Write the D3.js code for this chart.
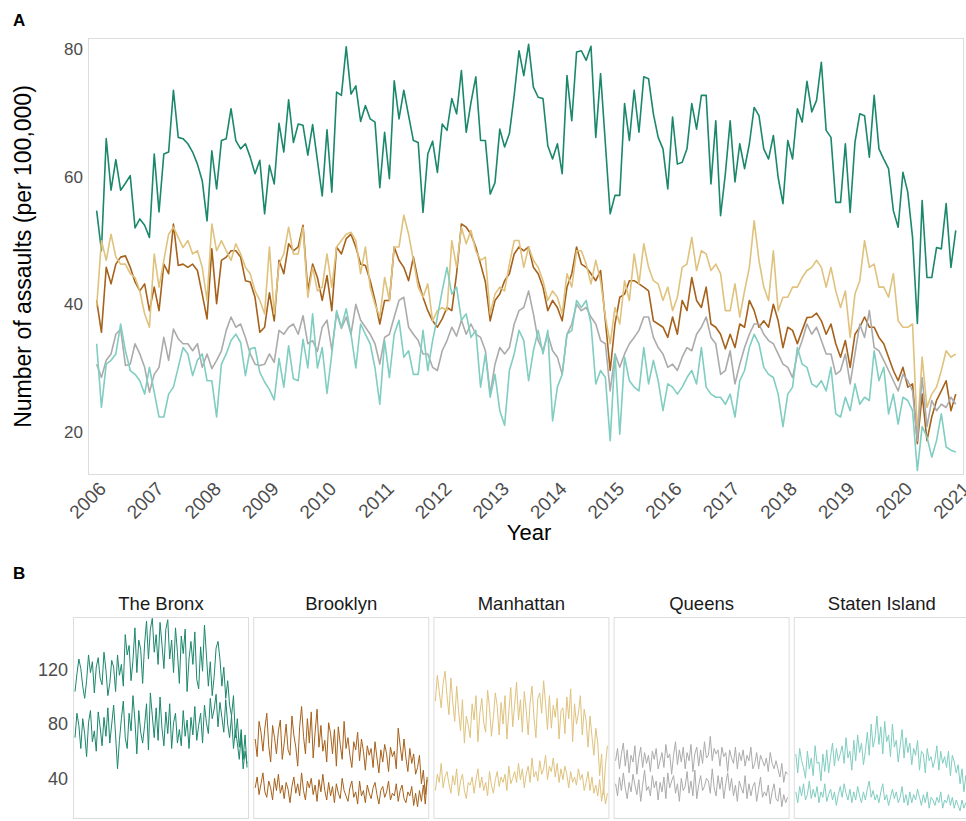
<!DOCTYPE html>
<html>
  <head>
    <title>Assaults per 100,000 by borough</title>
    <style>
      body { margin: 0; background: #fff; }
      text { font-family: 'Liberation Sans', Arial, sans-serif; }
    </style>
  </head>
  <body>
    <svg id="svg" width="966" height="821"></svg>
    <script src="https://cdn.jsdelivr.net/npm/d3@7"></script>
    <script>
      // ---- data ----
      const boroughs = ['The Bronx', 'Brooklyn', 'Manhattan', 'Queens', 'Staten Island'];
      const yearTicks = [2006, 2007, 2008, 2009, 2010, 2011, 2012, 2013, 2014, 2015, 2016, 2017, 2018, 2019, 2020, 2021];
      const rateTicks = [20, 40, 60, 80];
      const facetTicks = [40, 80, 120];

      // panel A: monthly rate, Jan 2006 - Dec 2020
      const bronxMonthly = [
        54.7, 48.4, 66.0, 57.9, 62.7, 57.9, 59.0, 60.2, 52.0, 53.4, 52.4, 50.5,
        63.6, 54.5, 63.6, 63.9, 73.6, 66.2, 66.0, 65.2, 63.9, 62.0, 59.4, 53.1,
        64.1, 58.1, 65.7, 66.0, 70.7, 65.7, 64.4, 65.2, 63.1, 60.5, 62.6, 54.2,
        61.8, 58.9, 68.4, 63.9, 72.1, 65.4, 68.3, 68.1, 63.4, 68.2, 62.6, 57.0,
        67.4, 57.6, 73.3, 72.8, 80.4, 73.0, 74.3, 68.7, 71.2, 69.1, 68.6, 58.3,
        67.0, 59.7, 75.1, 69.1, 73.6, 69.6, 65.7, 65.4, 54.4, 63.6, 65.6, 60.7,
        68.3, 67.3, 72.3, 69.9, 76.7, 67.0, 71.7, 75.7, 65.7, 65.7, 57.3, 59.1,
        67.5, 64.7, 66.8, 72.8, 79.8, 75.9, 80.8, 74.1, 72.5, 72.3, 64.9, 62.8,
        65.2, 60.5, 75.9, 68.8, 79.6, 79.8, 78.3, 80.5, 66.2, 76.2, 65.2, 54.2,
        57.1, 57.1, 71.5, 65.7, 73.6, 67.0, 75.7, 75.4, 69.9, 66.2, 64.4, 58.1,
        69.4, 62.0, 62.3, 64.4, 71.5, 67.5, 72.8, 72.8, 58.9, 68.8, 53.9, 60.5,
        68.8, 59.2, 65.2, 61.3, 65.2, 70.9, 69.6, 64.4, 62.8, 66.5, 59.9, 55.8,
        65.7, 62.8, 70.7, 68.6, 75.0, 70.2, 72.0, 78.0, 67.3, 66.2, 56.0, 56.0,
        65.2, 54.4, 65.4, 69.9, 69.6, 63.1, 72.8, 64.4, 62.8, 61.3, 54.7, 52.1,
        60.7, 57.6, 50.5, 37.0, 56.3, 44.2, 44.2, 48.9, 48.7, 55.8, 45.8, 51.6
      ];
      const brooklynMonthly = [
        40.6, 35.6, 45.8, 43.2, 46.3, 47.4, 47.6, 45.8, 43.5, 42.1, 43.2, 39.0,
        42.7, 39.0, 46.3, 44.8, 52.6, 46.1, 46.3, 45.8, 46.3, 45.3, 41.6, 37.7,
        48.7, 40.1, 46.9, 47.4, 48.4, 48.4, 47.4, 43.7, 43.5, 41.1, 35.6, 36.4,
        41.8, 37.4, 46.9, 44.8, 49.5, 48.4, 49.0, 52.4, 42.1, 46.3, 44.2, 40.6,
        44.5, 39.0, 49.0, 47.9, 50.3, 51.0, 49.0, 46.3, 46.1, 43.7, 40.6, 36.9,
        40.6, 40.6, 49.0, 46.9, 45.8, 43.7, 47.4, 43.7, 41.1, 39.0, 37.4, 36.4,
        37.7, 39.5, 39.0, 44.8, 52.6, 52.1, 51.0, 49.0, 46.3, 43.5, 37.4, 40.6,
        41.6, 43.7, 44.8, 47.9, 49.0, 48.4, 49.0, 45.8, 44.8, 42.7, 39.0, 40.6,
        39.5, 37.4, 42.7, 44.8, 49.0, 46.3, 45.8, 44.8, 43.7, 45.3, 37.4, 29.6,
        36.9, 41.1, 41.6, 43.7, 43.7, 43.2, 42.7, 42.1, 37.4, 36.9, 36.4, 34.8,
        38.0, 35.3, 40.6, 39.0, 44.2, 40.6, 39.5, 42.7, 36.9, 36.4, 35.3, 33.0,
        35.3, 33.2, 36.9, 36.4, 40.6, 39.0, 36.4, 37.4, 36.4, 40.0, 37.4, 33.2,
        36.4, 35.9, 33.8, 35.9, 37.9, 38.0, 38.6, 37.4, 35.3, 36.9, 33.8, 31.7,
        34.3, 30.1, 35.3, 36.4, 38.0, 36.4, 36.4, 34.8, 33.8, 31.7, 29.6, 28.0,
        30.1, 27.0, 27.5, 18.1, 25.9, 18.6, 22.3, 24.9, 26.4, 28.0, 23.3, 25.9
      ];
      const manhattanMonthly = [
        39.5, 50.0, 46.9, 51.0, 47.4, 46.3, 46.3, 44.8, 44.2, 42.1, 38.5, 36.4,
        47.9, 42.7, 46.9, 51.0, 52.1, 50.5, 48.9, 50.0, 47.9, 48.4, 45.8, 40.6,
        52.6, 48.4, 50.0, 48.4, 46.9, 49.5, 47.9, 45.8, 44.8, 42.1, 40.6, 38.5,
        49.0, 38.5, 46.3, 47.9, 52.1, 47.9, 47.9, 52.1, 41.1, 45.8, 42.1, 42.7,
        47.9, 42.7, 49.0, 50.0, 51.0, 51.3, 50.0, 44.8, 49.0, 42.7, 40.0, 38.0,
        44.2, 40.6, 49.0, 49.0, 54.0, 51.0, 46.9, 42.7, 41.1, 43.2, 37.4, 39.0,
        39.5, 39.0, 50.0, 45.8, 52.1, 49.5, 51.6, 48.4, 46.9, 47.4, 38.5, 41.6,
        42.7, 42.1, 46.3, 50.0, 50.0, 45.8, 49.0, 46.9, 45.8, 43.7, 40.6, 42.1,
        41.1, 38.5, 44.8, 42.7, 48.4, 48.4, 46.3, 43.2, 46.9, 43.7, 38.0, 33.8,
        39.5, 36.9, 43.7, 40.6, 47.9, 43.2, 49.5, 45.8, 43.7, 43.2, 40.6, 42.7,
        39.0, 41.1, 45.8, 46.3, 50.5, 45.3, 48.4, 47.9, 45.3, 46.3, 44.8, 39.0,
        39.0, 43.2, 38.0, 42.1, 45.8, 53.1, 46.9, 42.7, 40.6, 48.4, 39.0, 41.1,
        41.1, 42.7, 42.7, 44.2, 45.3, 45.8, 46.9, 45.8, 42.7, 45.8, 42.1, 39.5,
        42.1, 34.8, 41.6, 43.7, 50.0, 45.8, 46.3, 42.7, 42.7, 41.1, 44.8, 37.4,
        36.4, 36.4, 36.9, 19.6, 31.7, 23.8, 25.9, 27.0, 29.6, 32.7, 31.7, 32.2
      ];
      const queensMonthly = [
        30.6, 28.5, 31.2, 32.2, 35.3, 36.1, 30.4, 30.6, 33.8, 32.2, 30.1, 26.2,
        29.0, 30.1, 34.8, 31.2, 36.1, 34.6, 33.8, 33.8, 32.7, 33.8, 30.1, 32.2,
        29.9, 31.2, 32.7, 35.9, 38.0, 36.4, 36.9, 34.8, 32.2, 30.6, 30.4, 30.6,
        32.2, 30.9, 35.9, 35.3, 36.4, 36.9, 35.3, 38.2, 33.8, 34.3, 32.6, 36.4,
        37.5, 32.8, 38.6, 36.2, 38.0, 35.3, 40.0, 37.5, 36.4, 35.3, 33.8, 30.6,
        34.8, 35.3, 38.0, 40.6, 41.1, 36.4, 35.3, 34.3, 32.2, 32.2, 30.1, 29.6,
        32.7, 34.3, 36.4, 35.0, 37.5, 35.3, 36.9, 35.3, 34.8, 32.7, 25.9, 30.6,
        33.2, 32.2, 33.2, 36.9, 39.0, 39.5, 42.1, 38.5, 34.3, 32.7, 35.3, 32.7,
        31.7, 29.0, 35.3, 36.9, 40.0, 39.0, 39.5, 38.0, 36.9, 34.3, 33.8, 26.4,
        32.2, 30.1, 32.2, 33.8, 34.8, 35.9, 38.0, 38.0, 34.8, 33.2, 32.2, 30.1,
        30.6, 29.6, 31.7, 33.2, 32.7, 35.3, 36.4, 38.0, 34.8, 33.8, 29.0, 29.6,
        32.7, 27.5, 30.6, 33.2, 35.3, 36.9, 36.9, 35.3, 34.3, 33.8, 32.2, 30.6,
        30.1, 28.5, 32.2, 34.3, 36.9, 35.3, 36.4, 34.3, 32.2, 32.2, 29.0, 29.6,
        32.2, 27.5, 32.2, 36.9, 34.8, 39.0, 33.2, 32.7, 31.2, 29.6, 28.0, 26.4,
        29.0, 28.0, 26.4, 18.6, 28.5, 20.8, 24.9, 23.3, 24.3, 23.8, 25.4, 24.3
      ];
      const statenMonthly = [
        33.8, 23.8, 30.6, 31.2, 32.2, 36.9, 32.7, 29.6, 29.0, 28.0, 25.9, 30.1,
        26.2, 22.3, 22.3, 25.9, 27.0, 30.1, 33.2, 32.2, 28.8, 31.2, 32.2, 28.0,
        28.0, 22.3, 30.6, 32.2, 34.3, 35.3, 34.0, 28.8, 33.0, 33.2, 29.3, 27.8,
        26.6, 25.0, 31.5, 27.0, 33.5, 28.3, 28.0, 34.5, 30.0, 38.5, 30.0, 33.2,
        26.0, 32.2, 39.0, 36.4, 39.3, 35.3, 30.0, 36.9, 35.3, 33.8, 30.0, 24.3,
        34.3, 28.5, 35.3, 37.5, 31.7, 32.7, 29.0, 29.0, 35.9, 29.6, 34.3, 38.0,
        42.1, 45.8, 41.6, 42.7, 37.5, 38.5, 34.8, 35.9, 27.0, 32.2, 25.4, 29.0,
        23.3, 21.0, 29.6, 32.2, 35.9, 34.3, 28.0, 32.7, 35.9, 32.2, 35.9, 21.7,
        27.0, 29.0, 35.3, 35.9, 40.6, 39.5, 40.6, 36.9, 27.5, 29.6, 28.5, 18.6,
        32.2, 19.6, 31.7, 28.0, 27.0, 26.4, 33.2, 27.5, 31.2, 28.0, 23.3, 27.5,
        27.0, 25.9, 27.0, 28.5, 29.6, 27.5, 33.2, 27.0, 25.9, 25.4, 25.4, 24.3,
        25.9, 22.3, 28.0, 29.6, 33.2, 35.3, 33.8, 30.1, 29.0, 28.5, 25.9, 20.8,
        25.9, 27.0, 33.2, 30.6, 30.1, 27.5, 27.0, 28.0, 26.4, 30.1, 22.8, 22.3,
        25.4, 23.3, 27.5, 24.3, 25.4, 24.9, 32.7, 28.0, 30.1, 22.8, 25.9, 21.2,
        25.4, 24.9, 23.3, 13.9, 20.8, 19.2, 16.0, 18.6, 22.8, 17.6, 17.1, 16.8
      ];

      // panel B: two groups per borough, every second month 2006 - 2020
      const bronxHigh = [
        104, 117, 128, 121, 108, 99, 112, 131, 118, 126, 103, 122,
        129, 114, 109, 133, 120, 101, 110, 127, 122, 104, 131, 116,
        124, 108, 146, 131, 138, 112, 127, 151, 118, 142, 135, 110,
        139, 156, 128, 150, 158, 133, 146, 124, 155, 139, 121, 150,
        157, 128, 142, 118, 151, 133, 110, 145, 132, 150, 104, 128,
        141, 124, 148, 113, 106, 137, 119, 153, 131, 108, 126, 101,
        115, 136, 141, 128, 108, 122, 99, 112, 94, 86, 101, 70,
        84, 63, 76, 54, 72, 48
      ];
      const bronxLow = [
        70, 88, 79, 62, 84, 73, 56, 81, 90, 67, 75, 60,
        89, 78, 64, 85, 71, 92, 66, 80, 94, 72, 47, 68,
        84, 97, 70, 62, 88, 75, 101, 83, 58, 90, 74, 66,
        79, 95, 61, 103, 86, 70, 92, 68, 100, 77, 64, 89,
        73, 95, 62, 81, 88, 66, 76, 64, 90, 71, 83, 62,
        85, 72, 93, 68, 79, 88, 66, 94, 81, 73, 99, 84,
        91, 102, 78, 96, 85, 74, 98, 80, 70, 86, 62, 76,
        66, 54, 72, 47, 60, 51
      ];
      const brooklynHigh = [
        69, 56, 82, 74, 60, 77, 88, 64, 52, 79, 70, 58,
        75, 83, 54, 66, 80, 61, 57, 86, 72, 63, 49, 78,
        93, 71, 58, 84, 66, 89, 55, 74, 91, 63, 79, 60,
        68, 52, 81, 73, 58, 76, 49, 78, 65, 54, 82, 62,
        70, 57, 48, 67, 61, 74, 53, 69, 60, 46, 64, 57,
        62, 48, 67, 55, 44, 61, 52, 65, 58, 45, 63, 56,
        60, 47, 77, 64, 53, 69, 55, 45, 62, 51, 58, 43,
        48, 57, 36, 46, 28, 41
      ];
      const brooklynLow = [
        33, 41, 28, 36, 44, 30, 26, 38, 33, 24, 40, 31,
        43, 29, 35, 25, 37, 32, 22, 34, 41, 29, 36, 27,
        44, 31, 24, 38, 33, 40, 28, 35, 23, 39, 30, 43,
        31, 24, 37, 27, 34, 22, 36, 29, 25, 40, 31, 27,
        23, 33, 38, 26, 30, 21, 38, 27, 31, 22, 35, 29,
        25, 33, 37, 28, 21, 31, 34, 26, 30, 38, 24, 29,
        27, 36, 23, 31, 35, 25, 22, 30, 27, 34, 20, 29,
        19, 31, 23, 35, 21, 39
      ];
      const manhattanHigh = [
        97, 116, 104, 92, 110, 119, 101, 87, 114, 96, 82, 108,
        90, 75, 98, 66, 86, 79, 70, 95, 83, 101, 67, 88,
        99, 81, 74, 105, 92, 71, 85, 103, 93, 72, 96, 80,
        101, 69, 89, 107, 78, 94, 111, 83, 98, 74, 104, 90,
        72, 96, 108, 85, 70, 99, 103, 88, 112, 95, 76, 101,
        77, 94, 85, 99, 69, 90, 92, 73, 100, 84, 106, 67,
        95, 80, 88, 101, 72, 91, 82, 63, 86, 71, 57, 77,
        66, 42, 58, 28, 50, 64
      ];
      const manhattanLow = [
        31, 43, 37, 51, 33, 41, 45, 36, 29, 42, 35, 47,
        27, 38, 43, 31, 25, 37, 35, 41, 29, 39, 47, 33,
        41, 31, 37, 27, 45, 35, 29, 39, 45, 34, 41, 37,
        43, 31, 49, 36, 40, 45, 37, 51, 39, 47, 33, 43,
        49, 37, 55, 41, 45, 38, 53, 43, 47, 57, 39, 49,
        45, 55, 41, 51, 37, 47, 39, 49, 43, 33, 45, 37,
        41, 35, 47, 39, 43, 31, 37, 45, 31, 41, 29, 35,
        27, 39, 23, 33, 21, 29
      ];
      const queensHigh = [
        53, 62, 47, 58, 66, 49, 61, 44, 57, 52, 64, 43,
        55, 63, 48, 59, 51, 57, 45, 60, 54, 62, 47, 53,
        59, 48, 65, 55, 58, 43, 57, 67, 50, 61, 52, 63,
        47, 59, 53, 65, 45, 58, 63, 49, 61, 51, 67, 55,
        57, 71, 53, 62, 58, 61, 49, 63, 56, 59, 45, 61,
        55, 51, 63, 47, 59, 53, 61, 49, 57, 53, 63, 47,
        51, 59, 47, 57, 53, 49, 55, 45, 59, 51, 47, 53,
        47, 41, 51, 37, 45, 43
      ];
      const queensLow = [
        36, 27, 41, 31, 44, 33, 25, 37, 30, 43, 35, 28,
        39, 23, 35, 46, 31, 34, 27, 42, 33, 38, 24, 37,
        30, 41, 25, 44, 33, 38, 42, 29, 36, 23, 40, 31,
        34, 45, 29, 38, 27, 46, 25, 35, 42, 31, 34, 40,
        38, 29, 47, 33, 27, 42, 32, 41, 25, 36, 44, 31,
        40, 27, 35, 23, 38, 33, 29, 42, 25, 36, 27, 34,
        37, 23, 32, 41, 26, 30, 27, 35, 21, 30, 36, 25,
        23, 33, 19, 28, 22, 26
      ];
      const statenHigh = [
        58, 44, 62, 53, 48, 40, 60, 47, 55, 42, 64, 51,
        52, 38, 58, 45, 61, 44, 56, 66, 49, 62, 53, 58,
        64, 51, 70, 55, 60, 46, 68, 53, 72, 59, 66, 50,
        60, 74, 57, 80, 63, 70, 86, 65, 78, 58, 82, 67,
        72, 56, 80, 63, 68, 52, 64, 76, 55, 70, 59, 66,
        50, 62, 57, 68, 46, 60, 58, 44, 62, 53, 56, 48,
        54, 64, 46, 60, 51, 56, 48, 60, 42, 57, 52, 44,
        50, 36, 47, 30, 42, 34
      ];
      const statenLow = [
        30, 22, 34, 27, 36, 24, 28, 38, 25, 32, 26, 34,
        22, 30, 26, 36, 23, 28, 32, 24, 30, 20, 28, 34,
        26, 36, 29, 24, 32, 22, 30, 24, 34, 27, 22, 30,
        24, 32, 38, 26, 31, 24, 28, 22, 30, 36, 24, 28,
        20, 26, 32, 25, 30, 22, 26, 34, 22, 28, 20, 30,
        22, 28, 24, 32, 26, 20, 28, 22, 30, 18, 26, 24,
        20, 26, 22, 30, 18, 24, 22, 28, 20, 26, 18, 24,
        20, 16, 24, 18, 22, 17
      ];

      const monthlySeries = [bronxMonthly, brooklynMonthly, manhattanMonthly, queensMonthly, statenMonthly];
      const facetSeries = [
        [bronxHigh, bronxLow],
        [brooklynHigh, brooklynLow],
        [manhattanHigh, manhattanLow],
        [queensHigh, queensLow],
        [statenHigh, statenLow],
      ];
      const colors = ['#1b876b', '#a6611a', '#dfc27d', '#ababab', '#80cdc1'];

      // ---- layout ----
      const svg = d3.select('#svg');
      const fontFamily = "'Liberation Sans', Arial, sans-serif";
      const borderColor = '#dcdcdc';
      const tickColor = '#4d4d4d';

      // ---- panel A ----
      const aLeft = 88, aRight = 964, aTop = 38, aBottom = 475;
      const xScale = d3.scaleLinear().domain([2005.85, 2021.06]).range([aLeft, aRight]);
      const yScale = d3.scaleLinear().domain([13.2, 81.8]).range([aBottom, aTop]);

      svg.append('text')
        .attr('x', 13).attr('y', 26)
        .attr('font-size', 17).attr('font-weight', 'bold')
        .text('A');

      svg.append('rect')
        .attr('x', aLeft + 0.5).attr('y', aTop + 0.5)
        .attr('width', aRight - aLeft - 1).attr('height', aBottom - aTop - 1)
        .attr('fill', 'none').attr('stroke', borderColor);

      const monthLine = d3.line()
        .x((d, i) => xScale(2006 + i / 12))
        .y((d) => yScale(d));

      monthlySeries.forEach((series, k) => {
        svg.append('path')
          .attr('d', monthLine(series))
          .attr('fill', 'none')
          .attr('stroke', colors[k])
          .attr('stroke-width', 1.6)
          .attr('stroke-linejoin', 'round');
      });

      // left axis
      svg.append('g')
        .attr('transform', `translate(${aLeft}, 0)`)
        .call(d3.axisLeft(yScale).tickValues(rateTicks).tickSize(0).tickPadding(5))
        .call((g) => g.select('.domain').remove())
        .selectAll('text')
        .attr('font-size', 17)
        .attr('font-family', fontFamily)
        .attr('fill', tickColor);

      // bottom axis, labels at 45 degrees (the last one runs off the edge, as in the source)
      svg.append('g')
        .attr('transform', `translate(0, ${aBottom})`)
        .call(d3.axisBottom(xScale).tickValues(yearTicks).tickFormat(d3.format('d')).tickSize(0))
        .call((g) => g.select('.domain').remove())
        .selectAll('text')
        .attr('x', 10).attr('y', 15).attr('dy', 0)
        .attr('text-anchor', 'end')
        .attr('transform', 'rotate(-45, 10, 15)')
        .attr('font-size', 19)
        .attr('font-family', fontFamily)
        .attr('fill', tickColor);

      svg.append('text')
        .attr('x', (aLeft + aRight) / 2 + 3).attr('y', 540)
        .attr('text-anchor', 'middle')
        .attr('font-size', 22)
        .text('Year');

      svg.append('text')
        .attr('transform', `translate(31, ${(aTop + aBottom) / 2}) rotate(-90)`)
        .attr('text-anchor', 'middle')
        .attr('font-size', 23)
        .text('Number of assaults (per 100,000)');

      // ---- panel B ----
      const bTop = 617, bBottom = 819;
      const facetScale = d3.scaleBand()
        .domain(boroughs)
        .range([73, 969.8])
        .paddingInner(0.0233);
      const yFacet = d3.scaleLinear().domain([10, 159]).range([bBottom, bTop]);
      const xFacet = d3.scaleLinear()
        .domain([2006, 2020 + 5 / 6])
        .range([2, facetScale.bandwidth() - 2]);

      svg.append('text')
        .attr('x', 13).attr('y', 579)
        .attr('font-size', 17).attr('font-weight', 'bold')
        .text('B');

      const facetLine = d3.line()
        .x((d, i) => xFacet(2006 + i / 6))
        .y((d) => yFacet(d));

      boroughs.forEach((name, k) => {
        const g = svg.append('g')
          .attr('transform', `translate(${facetScale(name)}, 0)`);

        g.append('rect')
          .attr('x', 0.5).attr('y', bTop + 0.5)
          .attr('width', facetScale.bandwidth() - 1).attr('height', bBottom - bTop - 1)
          .attr('fill', 'none').attr('stroke', borderColor);

        g.append('text')
          .attr('x', facetScale.bandwidth() / 2).attr('y', 610)
          .attr('text-anchor', 'middle')
          .attr('font-size', 18.5)
          .attr('fill', '#1a1a1a')
          .text(name);

        facetSeries[k].forEach((series) => {
          g.append('path')
            .attr('d', facetLine(series))
            .attr('fill', 'none')
            .attr('stroke', colors[k])
            .attr('stroke-width', 1)
            .attr('stroke-linejoin', 'round');
        });
      });

      svg.append('g')
        .attr('transform', `translate(${facetScale(boroughs[0])}, 0)`)
        .call(d3.axisLeft(yFacet).tickValues(facetTicks).tickSize(0).tickPadding(5))
        .call((g) => g.select('.domain').remove())
        .selectAll('text')
        .attr('font-size', 18)
        .attr('font-family', fontFamily)
        .attr('fill', tickColor);
    </script>
  </body>
</html>
